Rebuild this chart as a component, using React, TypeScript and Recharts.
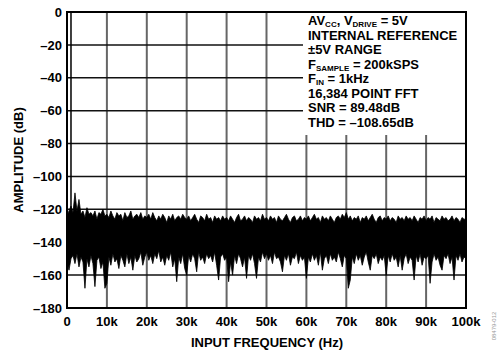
import {
  Area,
  CartesianGrid,
  ComposedChart,
  Line,
  XAxis,
  YAxis,
} from "recharts";

// FFT bins, 500 Hz apart, 0 .. 100 kHz
const BIN_HZ = 500;

// upper edge of the noise floor per bin (dB), harmonics at 2k and 3k
const noiseTop = [
  -124, -121, -118, -122, -110, -121, -114, -123, -121, -125, -119, -123, -122, -124, -121, -126, -122, -123, -120, -124,
  -123, -125, -121, -124, -126, -122, -124, -123, -127, -122, -125, -124, -121, -126, -124, -123, -125, -122, -126, -124,
  -125, -123, -126, -122, -125, -127, -124, -126, -123, -125, -128, -124, -126, -123, -127, -125, -124, -126, -123, -125,
  -126, -124, -127, -125, -123, -126, -128, -124, -125, -127, -123, -126, -125, -128, -124, -126, -125, -127, -124, -126,
  -125, -127, -124, -126, -128, -125, -123, -127, -126, -124, -127, -125, -126, -128, -124, -126, -125, -127, -123, -126,
  -125, -127, -124, -126, -125, -128, -124, -126, -127, -125, -123, -126, -128, -125, -124, -127, -126, -124, -127, -125,
  -126, -124, -127, -125, -123, -126, -125, -128, -124, -126, -125, -127, -124, -126, -128, -125, -124, -126, -123, -125,
  -122, -126, -124, -127, -125, -126, -124, -128, -125, -126, -124, -127, -125, -123, -126, -128, -125, -124, -127, -125,
  -126, -124, -127, -125, -126, -128, -124, -126, -125, -127, -124, -126, -125, -127, -124, -126, -128, -125, -126, -124,
  -127, -125, -126, -124, -128, -125, -126, -127, -124, -126, -125, -127, -126, -124, -127, -125, -126, -128, -125, -126,
  -126,
];

// lower edge of the noise floor per bin (dB)
const noiseBottom = [
  -152, -157, -150, -148, -153, -147, -155, -149, -152, -168, -150, -155, -148, -153, -167, -151, -149, -156, -152, -168,
  -165, -149, -154, -147, -152, -150, -156, -148, -151, -155, -147, -153, -149, -157, -148, -152, -150, -146, -154, -149,
  -146, -151, -148, -153, -147, -150, -145, -152, -149, -154, -148, -151, -146, -155, -150, -164, -149, -153, -147, -156,
  -160, -148, -152, -147, -150, -158, -146, -151, -149, -153, -147, -150, -148, -152, -146, -154, -163, -149, -147, -151,
  -149, -164, -152, -160, -148, -153, -147, -150, -155, -149, -162, -148, -151, -147, -153, -162, -149, -152, -146, -150,
  -147, -151, -148, -153, -146, -150, -149, -152, -158, -148, -151, -147, -154, -149, -150, -146, -153, -148, -151, -149,
  -162, -149, -152, -147, -151, -148, -154, -146, -157, -150, -148, -153, -147, -151, -149, -152, -146, -150, -155, -148,
  -150, -168, -163, -149, -153, -147, -151, -148, -154, -149, -146, -152, -157, -148, -150, -147, -153, -149, -151, -148,
  -160, -148, -152, -147, -151, -149, -155, -148, -157, -150, -147, -153, -149, -151, -163, -148, -152, -147, -154, -149,
  -150, -148, -165, -152, -147, -151, -149, -154, -157, -148, -150, -147, -153, -149, -163, -148, -151, -147, -152, -149,
  -150,
];

// the 1 kHz input tone
const fundamental = [
  { f: 1000, amp: -140 },
  { f: 1000, amp: 0 },
];

const freqTicks = [0, 10000, 20000, 30000, 40000, 50000, 60000, 70000, 80000, 90000, 100000];
const ampTicks = [0, -20, -40, -60, -80, -100, -120, -140, -160, -180];

const bins = noiseTop.map((top, i) => ({
  f: i * BIN_HZ,
  band: [noiseBottom[i], top],
}));

const FONT = '"Liberation Sans", Arial, sans-serif';

const fmtFreq = (v: number) => (v === 0 ? "0" : `${v / 1000}k`);
const fmtAmp = (v: number) => (v < 0 ? `–${-v}` : `${v}`);

const sub = { fontSize: 8, verticalAlign: -1.5, lineHeight: 0 } as const;
const tickStyle = { fill: "#000", fontSize: 13, fontWeight: 700, fontFamily: FONT };

export default function App() {
  return (
    <div
      style={{
        position: "absolute",
        left: 0,
        top: 0,
        width: 500,
        height: 351,
        background: "#fff",
        fontFamily: FONT,
        fontWeight: 700,
        color: "#000",
      }}
    >
      <ComposedChart
        width={500}
        height={351}
        data={bins}
        margin={{ top: 12, right: 34, bottom: 0, left: 0 }}
      >
        <CartesianGrid horizontal={false} stroke="#666" strokeWidth={2} />
        <CartesianGrid vertical={false} stroke="#111" strokeWidth={1.5} />

        <XAxis
          dataKey="f"
          type="number"
          domain={[0, 100000]}
          ticks={freqTicks}
          tickFormatter={fmtFreq}
          axisLine={false}
          tickLine={false}
          tickSize={0}
          tickMargin={9}
          height={43}
          interval={0}
          tick={tickStyle}
        />
        <YAxis
          type="number"
          domain={[-180, 0]}
          ticks={ampTicks}
          tickFormatter={fmtAmp}
          axisLine={false}
          tickLine={false}
          tickSize={0}
          tickMargin={5}
          width={67}
          interval={0}
          allowDataOverflow
          tick={tickStyle}
        />

        <Area
          dataKey="band"
          type="linear"
          stroke="#000"
          strokeWidth={0.8}
          fill="#000"
          fillOpacity={1}
          dot={false}
          activeDot={false}
          isAnimationActive={false}
        />
        <Line
          data={fundamental}
          dataKey="amp"
          stroke="#000"
          strokeWidth={1.5}
          dot={false}
          activeDot={false}
          isAnimationActive={false}
        />
      </ComposedChart>

      {/* conditions box, masks the grid in the top right */}
      <div
        style={{
          position: "absolute",
          left: 303,
          top: 12,
          width: 163,
          height: 123,
          background: "#fff",
          boxSizing: "border-box",
          paddingLeft: 5,
          paddingTop: 2,
          fontSize: 13,
          lineHeight: "14.5px",
          whiteSpace: "nowrap",
        }}
      >
        <div>
          AV<sub style={sub}>CC</sub>, V<sub style={sub}>DRIVE</sub> = 5V
        </div>
        <div>INTERNAL REFERENCE</div>
        <div>±5V RANGE</div>
        <div>
          F<sub style={sub}>SAMPLE</sub> = 200kSPS
        </div>
        <div>
          F<sub style={sub}>IN</sub> = 1kHz
        </div>
        <div>16,384 POINT FFT</div>
        <div>SNR = 89.48dB</div>
        <div>THD = –108.65dB</div>
      </div>

      {/* plot frame */}
      <div
        style={{
          position: "absolute",
          left: 66,
          top: 11,
          width: 401,
          height: 298,
          border: "2px solid #000",
          boxSizing: "border-box",
          pointerEvents: "none",
        }}
      />

      <div
        style={{
          position: "absolute",
          left: 18,
          top: 160,
          transform: "translate(-50%, -50%) rotate(-90deg)",
          fontSize: 13,
          whiteSpace: "nowrap",
        }}
      >
        AMPLITUDE (dB)
      </div>
      <div
        style={{
          position: "absolute",
          left: 267,
          top: 342,
          transform: "translate(-50%, -50%)",
          fontSize: 13,
          whiteSpace: "nowrap",
        }}
      >
        INPUT FREQUENCY (Hz)
      </div>
      <div
        style={{
          position: "absolute",
          left: 494,
          top: 326,
          transform: "translate(-50%, -50%) rotate(-90deg)",
          fontSize: 6,
          fontWeight: 400,
          color: "#999",
          whiteSpace: "nowrap",
        }}
      >
        08479-012
      </div>
    </div>
  );
}
